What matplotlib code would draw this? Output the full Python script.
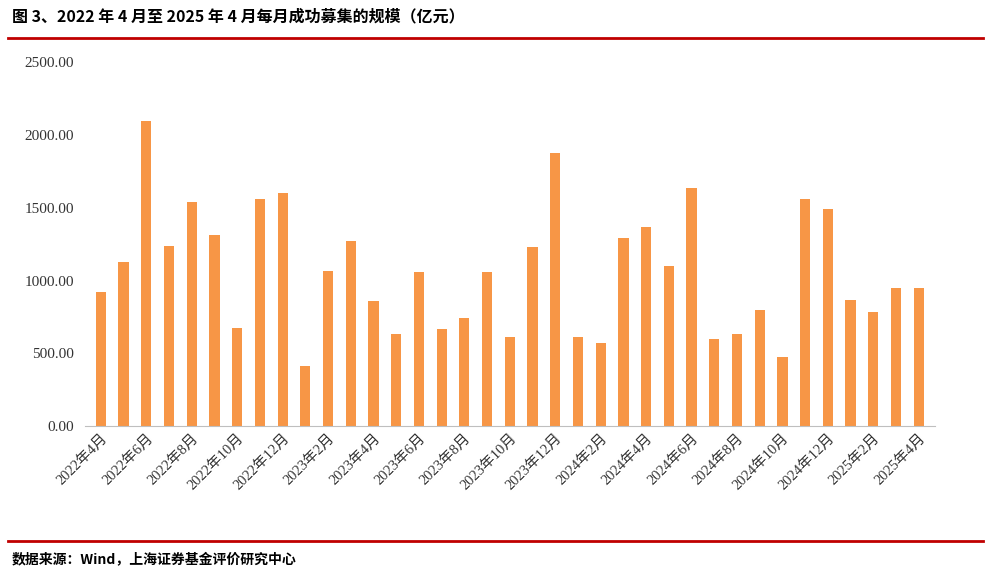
import matplotlib
matplotlib.use("Agg")
import matplotlib.pyplot as plt

months = [f"{y}年{m}月" for y, ms in [(2022, range(4, 13)), (2023, range(1, 13)), (2024, range(1, 13)), (2025, range(1, 5))] for m in ms]
values = [920, 1126, 2095, 1236, 1538, 1312, 673, 1559, 1600,
          412, 1065, 1271, 858, 632, 1058, 666, 742, 1058, 611, 1229, 1875,
          611, 570, 1291, 1367, 1099, 1635, 598, 632, 797, 474, 1559, 1490,
          865, 783, 948, 948]
yticks = [0, 500, 1000, 1500, 2000, 2500]

fam = ['Liberation Serif', 'Noto Sans CJK SC']
fig = plt.figure(figsize=(9.88, 5.72), dpi=100)
ax = fig.add_axes([0.086, 0.255, 0.86, 0.636])
x = range(len(values))
ax.bar(x, values, width=0.45, color='#F79646')
ax.set_xlim(-0.7, len(values) - 0.3)
ax.set_ylim(0, 2500)
ax.set_yticks(yticks)
ax.set_yticklabels([f"{v:.2f}" for v in yticks], family=fam, fontsize=11, color='#333333')
ax.set_xticks(list(x)[::2])
ax.set_xticklabels(months[::2], rotation=45, ha='right', rotation_mode='anchor', family=fam, fontsize=10.5, color='#333333')
for s in ['top', 'right', 'left']:
    ax.spines[s].set_visible(False)
ax.spines['bottom'].set_color('#BFBFBF')
ax.tick_params(axis='y', length=0, pad=8)
ax.tick_params(axis='x', length=0, pad=4)

fig.text(0.012, 0.972, "图 3、2022 年 4 月至 2025 年 4 月每月成功募集的规模（亿元）", family=['Noto Sans CJK SC'], fontweight='bold', fontsize=11.5, va='center')
fig.add_artist(plt.Line2D([0.008, 0.995], [0.933, 0.933], color='#C00000', lw=2))
fig.add_artist(plt.Line2D([0.008, 0.995], [0.055, 0.055], color='#C00000', lw=2))
fig.text(0.012, 0.022, "数据来源：Wind，上海证券基金评价研究中心", family=['Noto Sans CJK SC'], fontweight='bold', fontsize=10, va='center')
fig.savefig("out.png", dpi=100)
